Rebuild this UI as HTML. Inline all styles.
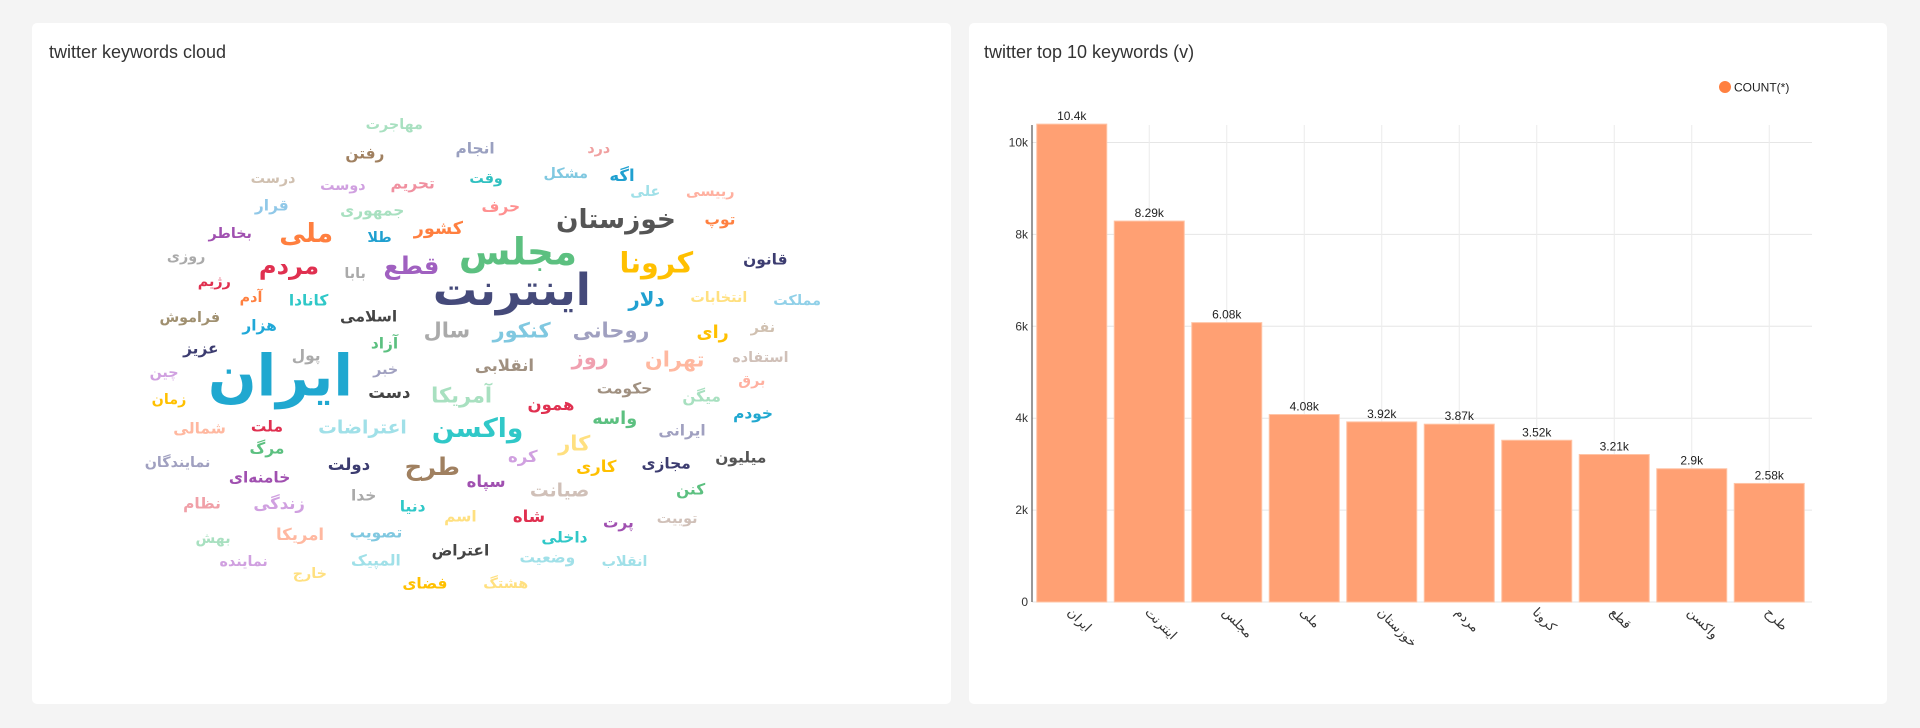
<!DOCTYPE html>
<html><head><meta charset="utf-8">
<style>
html,body{margin:0;padding:0;}
body{width:1920px;height:728px;background:#f4f4f4;position:relative;overflow:hidden;font-family:"Liberation Sans",sans-serif;}
.card{position:absolute;background:#fff;border-radius:5px;}
.title{position:absolute;font-size:18px;color:#333;}
.w{position:absolute;transform:translate(-50%,-50%);white-space:nowrap;font-family:"DejaVu Sans",sans-serif;font-weight:bold;line-height:1;}
</style></head><body>
<div class="card" style="left:32px;top:23px;width:919px;height:681px;"></div>
<div class="card" style="left:969px;top:23px;width:918px;height:681px;"></div>
<div class="title" style="left:49px;top:42px;">twitter keywords cloud</div>
<div class="title" style="left:984px;top:42px;">twitter top 10 keywords (v)</div>
<div id="cloud" style="position:absolute;left:0;top:0;width:960px;height:728px;"></div>
<svg id="chart" width="1920" height="728" style="position:absolute;left:0;top:0;font-family:'Liberation Sans',sans-serif;"></svg>
<script>
const words=["مهاجرت","رفتن","انجام","درد","درست","دوست","تحریم","وقت","مشکل","اگه","علی","رییسی","قرار","جمهوری","حرف","خوزستان","توپ","بخاطر","ملی","طلا","کشور","مجلس","کرونا","قانون","روزی","مردم","بابا","قطع","اینترنت","رژیم","آدم","کانادا","دلار","انتخابات","مملکت","فراموش","هزار","اسلامی","سال","کنکور","روحانی","رای","نفر","آزاد","عزیز","پول","ایران","روز","تهران","استفاده","انقلابی","چین","خبر","برق","دست","آمریکا","حکومت","زمان","همون","میگن","خودم","واسه","شمالی","ملت","اعتراضات","واکسن","ایرانی","کار","مرگ","کره","کاری","مجازی","میلیون","نمایندگان","دولت","طرح","خامنه‌ای","سپاه","صیانت","کنن","خدا","نظام","زندگی","دنیا","اسم","شاه","پرت","توییت","بهش","امریکا","تصویب","داخلی","اعتراض","نماینده","المپیک","وضعیت","انقلاب","خارج","فضای","هشتگ"];
const wx=[322,298,388,489,223,280,337,397,462,508,527,580,222,304,409,503,588,188,250,310,358,423,536,625,152,236,290,336,418,175,205,252,528,587,651,155,212,301,365,426,499,582,623,314,164,250,229,482,551,621,412,134,315,614,318,377,510,138,450,573,615,502,163,218,296,390,557,469,218,427,487,544,605,145,285,353,212,397,457,564,297,165,228,337,376,432,505,553,174,245,307,461,376,199,307,447,510,253,347,413];
const wy=[102,126,122,122,146,152,150,146,142,144,157,157,168,172,169,180,180,191,191,194,188,206,215,212,210,217,224,217,238,230,243,246,245,243,246,260,266,259,270,270,270,273,268,281,285,291,308,292,294,292,299,305,302,311,321,323,318,327,331,324,338,343,350,349,350,350,352,363,367,373,381,379,374,378,380,381,390,394,402,400,405,412,412,414,422,422,427,424,440,437,435,439,450,459,458,456,459,469,477,477];
const ws=[13,14,14,13,13,13,14,13,13,15,13,13,14,14,14,24,14,13,24,13,16,34,26,14,13,22,13,22,40,13,13,14,18,13,13,13,14,14,19,19,19,16,13,14,14,14,52,19,19,13,15,13,13,13,15,19,14,13,15,14,14,16,14,14,17,24,14,19,14,15,15,14,14,13,15,22,14,15,17,14,14,14,15,14,14,15,14,13,13,15,14,14,14,13,14,14,13,13,14,13];
const wc=["#a8e0c0","#a08060","#9aa0c0","#f0a0a0","#d0c0b0","#d0a0e0","#f090a0","#30c0c0","#80c8e0","#20a0d0","#a0e0e8","#ffb0a0","#90c8e8","#a8e0c0","#ff9090","#555555","#ff8040","#a050b0","#ff7f3f","#20a0d0","#ff7f3f","#5cc080","#ffc000","#3c3c70","#aaaaaa","#e03050","#aaaaaa","#a060c0","#454a7a","#e03050","#ff8040","#30c8c8","#20a0d0","#ffe080","#90d0e8","#a09070","#20a8d8","#444444","#aaaaaa","#80c8e0","#a0a0c0","#ffc000","#d0c0b0","#5cc080","#3c3c70","#aaaaaa","#20a8d0","#f0a0b0","#ffb8a0","#d0c0b8","#a09080","#d0a0e0","#a0a0c0","#ffb0a0","#444444","#a8e0c0","#a09080","#ffc000","#e03050","#a8e0c0","#20a8d0","#5cc080","#ffb8a0","#e03050","#a0e0e8","#30c8c8","#a0a0c0","#ffe080","#5cc080","#d0a0e0","#ffc000","#3c3c70","#555555","#a0a0c0","#3c3c70","#a08060","#a050b0","#a050b0","#d0c0b8","#5cc080","#aaaaaa","#f0a0a8","#d0a0e0","#30c8c8","#ffe080","#e03050","#a050b0","#d0c0b8","#a8e0c0","#ffb8a0","#80c8e0","#30c8c8","#444444","#d0a0e0","#a0e0e8","#a0e0e8","#a0e0e8","#ffe080","#ffc000","#ffe080"];
const K=1.2245, FK=1.1, cloud=document.getElementById('cloud');
words.forEach((t,i)=>{const s=document.createElement('span');s.className='w';


s.textContent=t;s.style.left=(wx[i]*K)+'px';s.style.top=(wy[i]*K)+'px';s.style.fontSize=(ws[i]*FK)+'px';s.style.color=wc[i];cloud.appendChild(s);});

const categories=["ایران","اینترنت","مجلس","ملی","خوزستان","مردم","کرونا","قطع","واکسن","طرح"];
const values=[10400,8290,6080,4080,3920,3870,3520,3210,2900,2580];
const valueLabels=["10.4k","8.29k","6.08k","4.08k","3.92k","3.87k","3.52k","3.21k","2.9k","2.58k"];
const yTicks=[0,2000,4000,6000,8000,10000];
const yTickLabels=["0","2k","4k","6k","8k","10k"];
const svg=document.getElementById('chart'),NS='http://www.w3.org/2000/svg';
const X0=1033,STEP=77.5,BW=70,Y0=602,YK=(602-142.5)/10000,TOP=125,XEND=1812;
const y=v=>Y0-v*YK, xc=i=>X0+STEP*i+STEP/2;
function el(tag,attrs,name,txt){const e=document.createElementNS(NS,tag);for(const k in attrs)e.setAttribute(k,attrs[k]);


if(txt!==undefined)e.textContent=txt;svg.appendChild(e);return e;}
yTicks.forEach((t,i)=>{el('line',{x1:1032,x2:XEND,y1:y(t),y2:y(t),stroke:'#e6e6e6','stroke-width':1},'y-gridline');
el('text',{x:1028,y:y(t)+4,'text-anchor':'end','font-size':12,fill:'#333'},'y-tick-label',yTickLabels[i]);});
categories.forEach((c,i)=>el('line',{x1:xc(i),x2:xc(i),y1:TOP,y2:Y0,stroke:'#ececec','stroke-width':1},'x-gridline'));
values.forEach((v,i)=>{el('rect',{x:xc(i)-BW/2,y:y(v),width:BW,height:Y0-y(v),fill:'#ffa073',stroke:'#ffc4a6','stroke-width':1},'bar-'+(i+1));
el('text',{x:xc(i),y:y(v)-4,'text-anchor':'middle','font-size':12,fill:'#222'},'bar-value-label',valueLabels[i]);
el('text',{x:xc(i)-5,y:613,'font-size':13,fill:'#333','font-family':'DejaVu Sans,sans-serif',transform:`rotate(45 ${xc(i)-5} 613)`},'x-tick-label',categories[i]);});
el('line',{x1:1032,x2:1032,y1:TOP,y2:Y0,stroke:'#333','stroke-width':1},'y-axis-line');
el('circle',{cx:1725,cy:87,r:6,fill:'#ff8040'},'legend-marker');
el('text',{x:1734,y:91.5,'font-size':12,fill:'#222'},'legend-label','COUNT(*)');
</script>
</body></html>
